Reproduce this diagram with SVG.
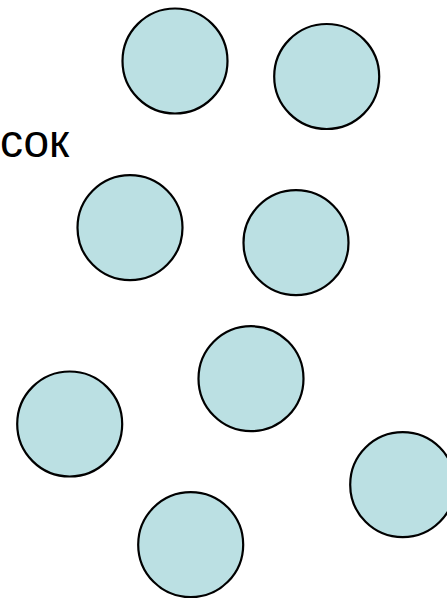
<svg xmlns="http://www.w3.org/2000/svg" width="447" height="598" viewBox="0 0 447 598">
<style>
.c{fill:#bbe0e3;stroke:#000;stroke-width:2.2}
.t{font-family:"Liberation Sans",Arial,sans-serif;font-size:46px;fill:#000}
</style>
<rect width="447" height="598" fill="#fff"/>
<g id="n1"><circle class="c" cx="175" cy="61" r="52.5"/></g>
<g id="n2"><circle class="c" cx="326.7" cy="76.5" r="52.5"/></g>
<g id="n3"><circle class="c" cx="130" cy="227.7" r="52.5"/></g>
<g id="n4"><circle class="c" cx="296" cy="242.7" r="52.5"/></g>
<g id="n5"><circle class="c" cx="69.7" cy="424" r="52.5"/></g>
<g id="n6"><circle class="c" cx="251" cy="378.7" r="52.5"/></g>
<g id="n7"><circle class="c" cx="190.7" cy="544.7" r="52.5"/></g>
<g id="n8"><circle class="c" cx="402.7" cy="484.7" r="52.5"/></g>
<g id="connectors"></g>
<g id="label"><text class="t" x="0" y="157.3">сок</text></g>
</svg>
